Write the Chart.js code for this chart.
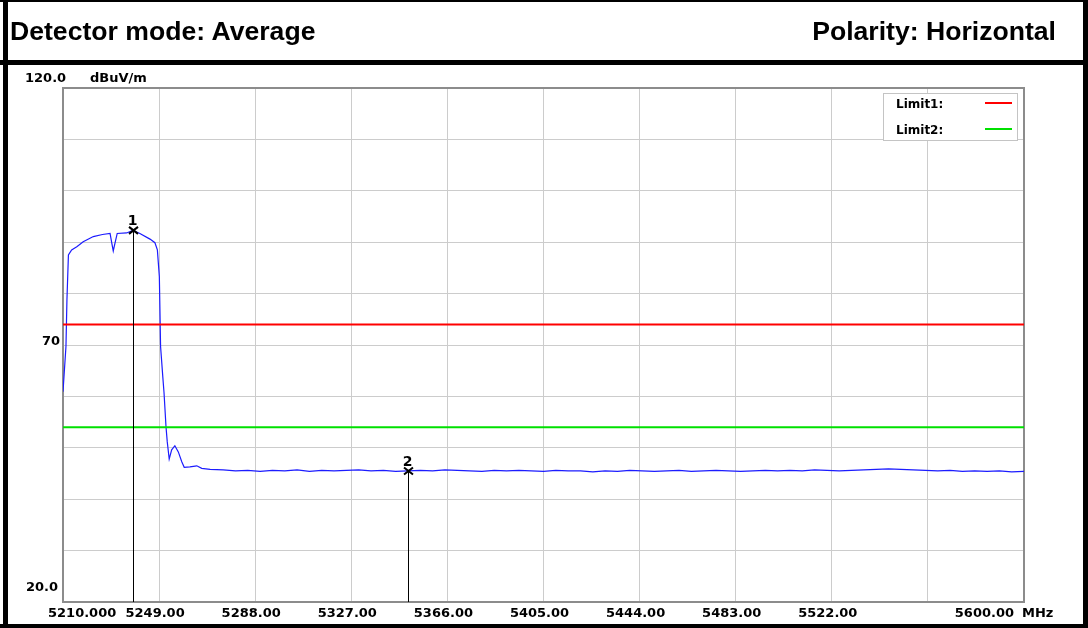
<!DOCTYPE html>
<html>
<head>
<meta charset="utf-8">
<title>Detector mode: Average</title>
<script src="https://cdn.jsdelivr.net/npm/chart.js@4.4.1/dist/chart.umd.min.js"></script>
<style>
  html, body { margin: 0; padding: 0; background: #fff; }
  #page { position: relative; width: 1088px; height: 628px; overflow: hidden; background: #fff; }
  #plot { position: absolute; left: 0; top: 0; }
  .bar { position: absolute; background: #000; }
  .head { position: absolute; top: 18px; font: bold 26.6px "Liberation Sans", Arial, sans-serif; line-height: 26px; color: #000; white-space: nowrap; }
</style>
</head>
<body>
<div id="page">
  <canvas id="plot" width="1088" height="628"></canvas>
  <div class="bar" style="left:0;top:0;width:1088px;height:2px"></div>
  <div class="bar" style="left:3px;top:0;width:5px;height:628px"></div>
  <div class="bar" style="left:1083px;top:0;width:5px;height:628px"></div>
  <div class="bar" style="left:0;top:60px;width:1088px;height:5px"></div>
  <div class="bar" style="left:0;top:624px;width:1088px;height:4px"></div>
  <div class="head" style="left:10px">Detector mode: Average</div>
  <div class="head" style="right:32px">Polarity: Horizontal</div>
</div>
<script>
// frequency axis (MHz) and level axis (dBuV/m)
const freqMin = 5210, freqMax = 5600;
const levelMin = 20, levelMax = 120;
const freqTicks = [5210, 5249, 5288, 5327, 5366, 5405, 5444, 5483, 5522, 5561, 5600];
const freqTickLabels = ['5210.000', '5249.00', '5288.00', '5327.00', '5366.00', '5405.00', '5444.00', '5483.00', '5522.00', '', '5600.00'];

// measured average trace
const traceFreqs = [
  5210.0, 5211.2, 5211.6, 5212.2, 5213.5, 5215.6, 5218.2, 5222.3, 5226.0, 5229.1,
  5229.8, 5230.4, 5231.1, 5232.0, 5235.8, 5238.4, 5241.2, 5245.3, 5247.3, 5248.3,
  5249.1, 5249.6, 5250.5, 5251.0, 5251.8, 5252.3, 5253.1, 5254.1, 5255.4, 5256.8,
  5258.2, 5259.2, 5261.5, 5264.3, 5266.3, 5269.7,
  5275, 5280, 5285, 5290, 5295, 5300, 5305, 5310, 5315, 5320,
  5325, 5330, 5335, 5340, 5345, 5350, 5355, 5360, 5365, 5370,
  5375, 5380, 5385, 5390, 5395, 5400, 5405, 5410, 5415, 5420,
  5425, 5430, 5435, 5440, 5445, 5450, 5455, 5460, 5465, 5470,
  5475, 5480, 5485, 5490, 5495, 5500, 5505, 5510, 5515, 5520,
  5525, 5530, 5535, 5540, 5545, 5550, 5555, 5560, 5565, 5570,
  5575, 5580, 5585, 5590, 5595, 5600
];
const traceLevels = [
  60.9, 69.7, 78.8, 87.5, 88.5, 89.1, 90.1, 91.1, 91.5, 91.7,
  89.8, 88.3, 89.8, 91.7, 91.8, 92.3, 91.7, 90.6, 89.9, 88.5,
  83.3, 69.7, 63.8, 60.7, 54.1, 51.2, 47.8, 49.6, 50.4, 49.2,
  47.3, 46.2, 46.3, 46.5, 46.0, 45.8,
  45.7, 45.5, 45.6, 45.4, 45.6, 45.5, 45.7, 45.4, 45.6, 45.5,
  45.6, 45.7, 45.5, 45.6, 45.4, 45.5, 45.6, 45.5, 45.7, 45.6,
  45.5, 45.4, 45.6, 45.5, 45.6, 45.5, 45.4, 45.6, 45.5, 45.5,
  45.3, 45.5, 45.4, 45.6, 45.5, 45.4, 45.5, 45.6, 45.4, 45.5,
  45.6, 45.5, 45.4, 45.5, 45.6, 45.5, 45.6, 45.5, 45.7, 45.6,
  45.5, 45.6, 45.7, 45.8, 45.9, 45.8, 45.7, 45.6, 45.5, 45.6,
  45.4, 45.5, 45.4, 45.5, 45.3, 45.4
];

// limit lines
const limitNames = ['Limit1:', 'Limit2:'];
const limitLevels = [74, 54];
const limitColors = ['#ff0000', '#00e000'];

// markers
const markerNames = ['1', '2'];
const markerFreqs = [5238.4, 5350.0];
const markerLevels = [92.3, 45.5];

const SMALL = 'bold 13px "DejaVu Sans", sans-serif';

const tracePoints = traceFreqs.map((f, i) => ({ x: f, y: traceLevels[i] }));

const datasets = [{
  label: 'Trace',
  data: tracePoints,
  borderColor: '#1c1cff',
  borderWidth: 1.2,
  pointRadius: 0,
  tension: 0,
  order: 2
}];
limitLevels.forEach((lv, i) => {
  datasets.push({
    label: limitNames[i],
    data: [{ x: freqMin, y: lv }, { x: freqMax, y: lv }],
    borderColor: limitColors[i],
    borderWidth: 2,
    pointRadius: 0,
    order: 1
  });
});

const decorations = {
  id: 'decorations',
  beforeDatasetsDraw(chart) {
    const { ctx, chartArea: a } = chart;
    ctx.save();
    ctx.strokeStyle = '#8c8c8c';
    ctx.lineWidth = 2;
    ctx.strokeRect(a.left, a.top, a.right - a.left, a.bottom - a.top);
    ctx.restore();
  },
  afterDatasetsDraw(chart) {
    const { ctx, chartArea: a } = chart;
    const xs = chart.scales.x, ys = chart.scales.y;
    ctx.save();

    // marker lines and crosses
    markerNames.forEach((name, i) => {
      const px = Math.round(xs.getPixelForValue(markerFreqs[i])) + 0.5;
      const py = ys.getPixelForValue(markerLevels[i]);
      ctx.strokeStyle = '#000';
      ctx.lineWidth = 1;
      ctx.beginPath();
      ctx.moveTo(px, py);
      ctx.lineTo(px, a.bottom);
      ctx.stroke();
      ctx.lineWidth = 2;
      ctx.beginPath();
      ctx.moveTo(px - 4.5, py - 3.5); ctx.lineTo(px + 4.5, py + 3.5);
      ctx.moveTo(px - 4.5, py + 3.5); ctx.lineTo(px + 4.5, py - 3.5);
      ctx.stroke();
      ctx.fillStyle = '#000';
      ctx.font = 'bold 14px "DejaVu Sans", sans-serif';
      ctx.textAlign = 'center';
      ctx.textBaseline = 'alphabetic';
      ctx.fillText(name, px - 1, py - 5);
    });

    // legend box for the limit lines
    const bx = a.right - 141, by = a.top + 5, bw = 134, bh = 47;
    ctx.fillStyle = '#fff';
    ctx.fillRect(bx, by, bw, bh);
    ctx.strokeStyle = '#c4c4c4';
    ctx.lineWidth = 1;
    ctx.strokeRect(bx + 0.5, by + 0.5, bw, bh);
    ctx.font = 'bold 12px "DejaVu Sans", sans-serif';
    ctx.textAlign = 'left';
    limitNames.forEach((name, i) => {
      const rowY = by + 10 + i * 26;
      ctx.fillStyle = '#000';
      ctx.fillText(name, bx + 13, rowY + 5);
      ctx.strokeStyle = limitColors[i];
      ctx.lineWidth = 2;
      ctx.beginPath();
      ctx.moveTo(bx + 102, rowY);
      ctx.lineTo(bx + 129, rowY);
      ctx.stroke();
    });
    ctx.restore();
  },
  afterDraw(chart) {
    const { ctx, chartArea: a } = chart;
    const xs = chart.scales.x, ys = chart.scales.y;
    ctx.save();
    ctx.fillStyle = '#000';
    ctx.font = SMALL;
    ctx.textBaseline = 'alphabetic';

    // level labels
    ctx.textAlign = 'left';
    ctx.fillText(levelMax.toFixed(1), 25, ys.getPixelForValue(levelMax) - 6);
    ctx.fillText('dBuV/m', 90, ys.getPixelForValue(levelMax) - 6);
    ctx.fillText(levelMin.toFixed(1), 26, ys.getPixelForValue(levelMin) - 11);
    ctx.textAlign = 'right';
    ctx.fillText('70', 60, ys.getPixelForValue(70));

    // frequency labels
    const base = a.bottom + 15;
    freqTicks.forEach((f, i) => {
      const lbl = freqTickLabels[i];
      if (!lbl) return;
      const px = xs.getPixelForValue(f);
      if (i === 0) {
        ctx.textAlign = 'left';
        ctx.fillText(lbl, px - 15, base);
      } else if (i === freqTicks.length - 1) {
        ctx.textAlign = 'right';
        ctx.fillText(lbl, px - 10, base);
      } else {
        ctx.textAlign = 'center';
        ctx.fillText(lbl, px - 4, base);
      }
    });
    ctx.textAlign = 'left';
    ctx.fillText('MHz', xs.getPixelForValue(freqMax) - 2, base);
    ctx.restore();
  }
};

new Chart(document.getElementById('plot'), {
  type: 'line',
  data: { datasets },
  options: {
    responsive: false,
    animation: false,
    devicePixelRatio: 1,
    layout: { padding: { left: 63, top: 88, right: 64, bottom: 26 } },
    plugins: { legend: { display: false }, tooltip: { enabled: false } },
    scales: {
      x: {
        type: 'linear',
        min: freqMin,
        max: freqMax,
        afterBuildTicks: s => { s.ticks = freqTicks.map(v => ({ value: v })); },
        afterFit: s => { s.height = 0; },
        ticks: { display: false },
        grid: { color: '#cccccc', lineWidth: 1, drawTicks: false },
        border: { display: false }
      },
      y: {
        type: 'linear',
        min: levelMin,
        max: levelMax,
        ticks: { display: false, stepSize: 10 },
        afterFit: s => { s.width = 0; },
        grid: { color: '#cccccc', lineWidth: 1, drawTicks: false },
        border: { display: false }
      }
    }
  },
  plugins: [decorations]
});
</script>
</body>
</html>
